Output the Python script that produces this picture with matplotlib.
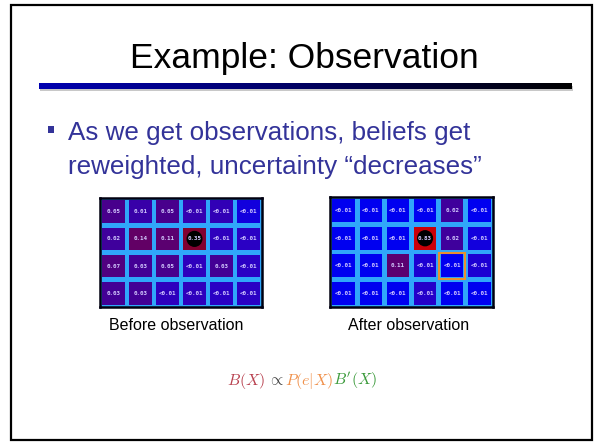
import matplotlib
matplotlib.use("Agg")
import numpy as np
import matplotlib.pyplot as plt
from matplotlib.patches import Rectangle, Circle
from matplotlib.colors import LinearSegmentedColormap, LogNorm

plt.rcParams['mathtext.fontset'] = 'cm'

TITLE = "Example: Observation"
BULLET_LINES = ["As we get observations, beliefs get",
                "reweighted, uncertainty \u201cdecreases\u201d"]
CAPTIONS = ["Before observation", "After observation"]

# belief over the 6x4 grid, rows top to bottom
before_vals = [
    [0.05, 0.01, 0.05, 0.008, 0.007, 0.002],
    [0.02, 0.14, 0.11, 0.35, 0.006, 0.005],
    [0.07, 0.03, 0.05, 0.006, 0.03, 0.005],
    [0.03, 0.03, 0.006, 0.006, 0.005, 0.005],
]
after_vals = [
    [0.001, 0.001, 0.001, 0.001, 0.02, 0.001],
    [0.001, 0.001, 0.001, 0.83, 0.02, 0.002],
    [0.001, 0.001, 0.11, 0.003, 0.001, 0.003],
    [0.001, 0.001, 0.001, 0.004, 0.001, 0.001],
]
agent_cell = (1, 3)      # (row, col) where the black dot sits
sensor_cell = (2, 4)     # (row, col) outlined in orange after observing

# formula pieces and their colours
formula_parts = [r"$B(X)$", r"$\propto$", r"$P(e|X)$", r"$B'(X)$"]
formula_colors = ["#b8404e", "#404040", "#f0904a", "#3a9a3a"]
formula_gaps = [3, 0, 0, 0]   # pixels after each piece

W, H = 600, 445
fig = plt.figure(figsize=(W / 100, H / 100), dpi=100)
ax = fig.add_axes([0, 0, 1, 1])
ax.set_xlim(0, W)
ax.set_ylim(H, 0)
ax.axis("off")

# slide frame
ax.add_patch(Rectangle((11, 5), 581, 435, fill=False, edgecolor="black", lw=1.6))

# title and underline
ax.text(304, 68, TITLE, ha="center", va="baseline", fontsize=25.5,
        family="Liberation Sans", color="black")
grad = LinearSegmentedColormap.from_list("rule", ["#0000b0", "#000060", "#000000"])
ax.add_patch(Rectangle((40, 86), 533, 5, color="#c8c8c8", lw=0))
ax.imshow(np.linspace(0, 1, 256)[None, :], cmap=grad, aspect="auto",
          extent=[39, 572, 89, 83], zorder=2)
ax.set_xlim(0, W)
ax.set_ylim(H, 0)

# bullet
ax.add_patch(Rectangle((48, 126), 6, 6.5, color="#333399", lw=0))
for i, line in enumerate(BULLET_LINES):
    ax.text(68, 140 + i * 34, line, ha="left", va="baseline", fontsize=18.7,
            family="Liberation Sans", color="#333399")

cmap = LinearSegmentedColormap.from_list(
    "belief",
    [(0.0, "#0000f0"), (0.233, "#2a00c4"), (0.333, "#3800a8"), (0.566, "#48008c"),
     (0.7, "#5e006c"), (0.85, "#800030"), (1.0, "#d80000")])
norm = LogNorm(vmin=0.001, vmax=1)


def draw_grid(box, vals, highlight=None):
    left, top, right, bottom = box
    g = fig.add_axes([left / W, 1 - bottom / H, (right - left) / W, (bottom - top) / H])
    vals = np.asarray(vals)
    nr, nc = vals.shape
    g.set_xlim(0, nc)
    g.set_ylim(nr, 0)
    g.set_facecolor("#30a6fa")
    g.set_xticks([])
    g.set_yticks([])
    for s in g.spines.values():
        s.set_linewidth(1.8)
        s.set_color("#000010")
    pad = 0.09
    for r in range(nr):
        for c in range(nc):
            v = vals[r, c]
            g.add_patch(Rectangle((c + pad, r + pad), 1 - 2 * pad, 1 - 2 * pad,
                                  color=cmap(norm(v)), lw=0))
            if (r, c) == agent_cell:
                g.add_patch(Circle((c + 0.5, r + 0.5), 0.27, color="black", zorder=3))
            label = "<0.01" if v < 0.01 else f"{v:.2f}"
            g.text(c + 0.5, r + 0.5, label, ha="center", va="center", fontsize=4.2,
                   family="DejaVu Sans Mono", weight="bold", color="#d4ccff", zorder=4)
    if highlight is not None:
        r, c = highlight
        g.add_patch(Rectangle((c + 0.03, r + 0.03), 0.94, 0.94, fill=False,
                              edgecolor="#e89030", lw=1.5, zorder=5))


draw_grid((100, 198, 262, 307), before_vals)
draw_grid((330, 197, 493, 307), after_vals, highlight=sensor_cell)

ax.text(176, 326, CAPTIONS[0], ha="center", va="center", fontsize=11.5,
        family="Liberation Sans", color="black")
ax.text(409, 326, CAPTIONS[1], ha="center", va="center", fontsize=11.5,
        family="Liberation Sans", color="black")

# lay the formula out piece by piece so each part keeps its own colour
renderer = fig.canvas.get_renderer()
pieces = []
for part, col in zip(formula_parts, formula_colors):
    t = ax.text(0, 385, part, ha="left", va="baseline", fontsize=11.5, color=col)
    pieces.append(t)
widths = [t.get_window_extent(renderer).width for t in pieces]
total = sum(widths) + sum(formula_gaps[:-1])
x = 302 - total / 2
for t, w, gap in zip(pieces, widths, formula_gaps):
    t.set_x(x)
    x += w + gap

fig.savefig("out.png", dpi=100)
